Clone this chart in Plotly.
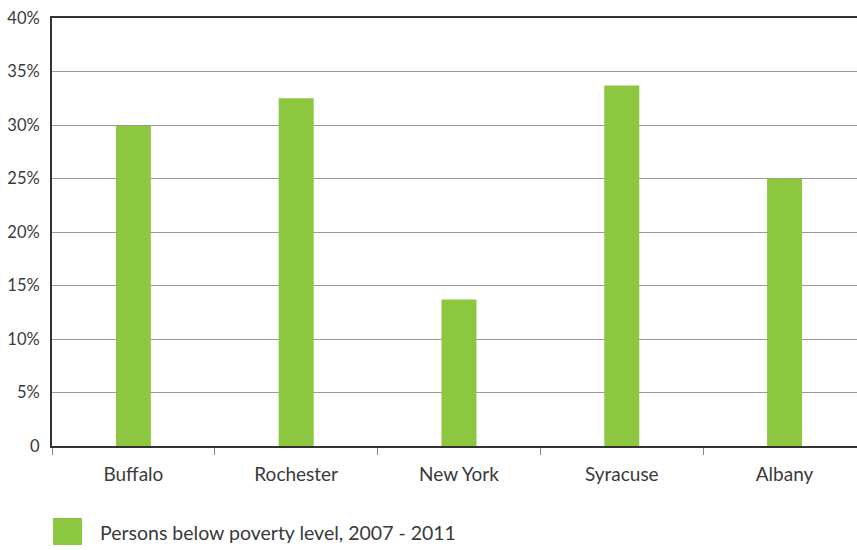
import plotly.graph_objects as go

cities = ["Buffalo", "Rochester", "New York", "Syracuse", "Albany"]
poverty_pct = [29.9, 32.5, 13.7, 33.7, 25.0]
y_ticks = [0, 5, 10, 15, 20, 25, 30, 35, 40]
y_tick_labels = ["0", "5%", "10%", "15%", "20%", "25%", "30%", "35%", "40%"]
series_name = "Persons below poverty level, 2007 - 2011"

green = "#8DC63F"
font_family = "Lato, 'Open Sans', sans-serif"
text_color = "#3a3a3a"

fig = go.Figure()
fig.add_trace(go.Bar(
    x=cities, y=poverty_pct, marker=dict(color=green, line=dict(width=0)),
    name=series_name, showlegend=False,
))

fig.update_layout(
    width=857, height=550,
    margin=dict(l=52, r=0, t=18, b=104),
    paper_bgcolor="white", plot_bgcolor="white",
    bargap=0.785,
    font=dict(family=font_family, size=16, color=text_color),
    xaxis=dict(
        range=[-0.5, 4.445],
        showline=True, linecolor="#333333", linewidth=2, mirror=True,
        ticks="outside", tickson="boundaries", ticklen=7, tickcolor="#888888",
        tickwidth=1, showgrid=False, ticklabelstandoff=10,
        tickfont=dict(size=19, color=text_color),
    ),
    yaxis=dict(
        range=[0, 40], tickvals=y_ticks, ticktext=y_tick_labels,
        showline=True, linecolor="#333333", linewidth=2,
        showgrid=True, gridcolor="#999999", gridwidth=1,
        ticks="", ticklabelstandoff=7, zeroline=False,
        tickfont=dict(size=16.5, color=text_color),
    ),
    shapes=[dict(type="rect", xref="paper", yref="paper",
                 x0=1/805, x1=30/805, y0=-72/428, y1=-99/428,
                 fillcolor=green, line=dict(width=0))],
    annotations=[dict(text=series_name, xref="paper", yref="paper",
                      x=46/805, y=-86/428, xanchor="left", yanchor="middle",
                      showarrow=False, font=dict(size=19.5, color=text_color))],
)

fig.write_html("out.html")
